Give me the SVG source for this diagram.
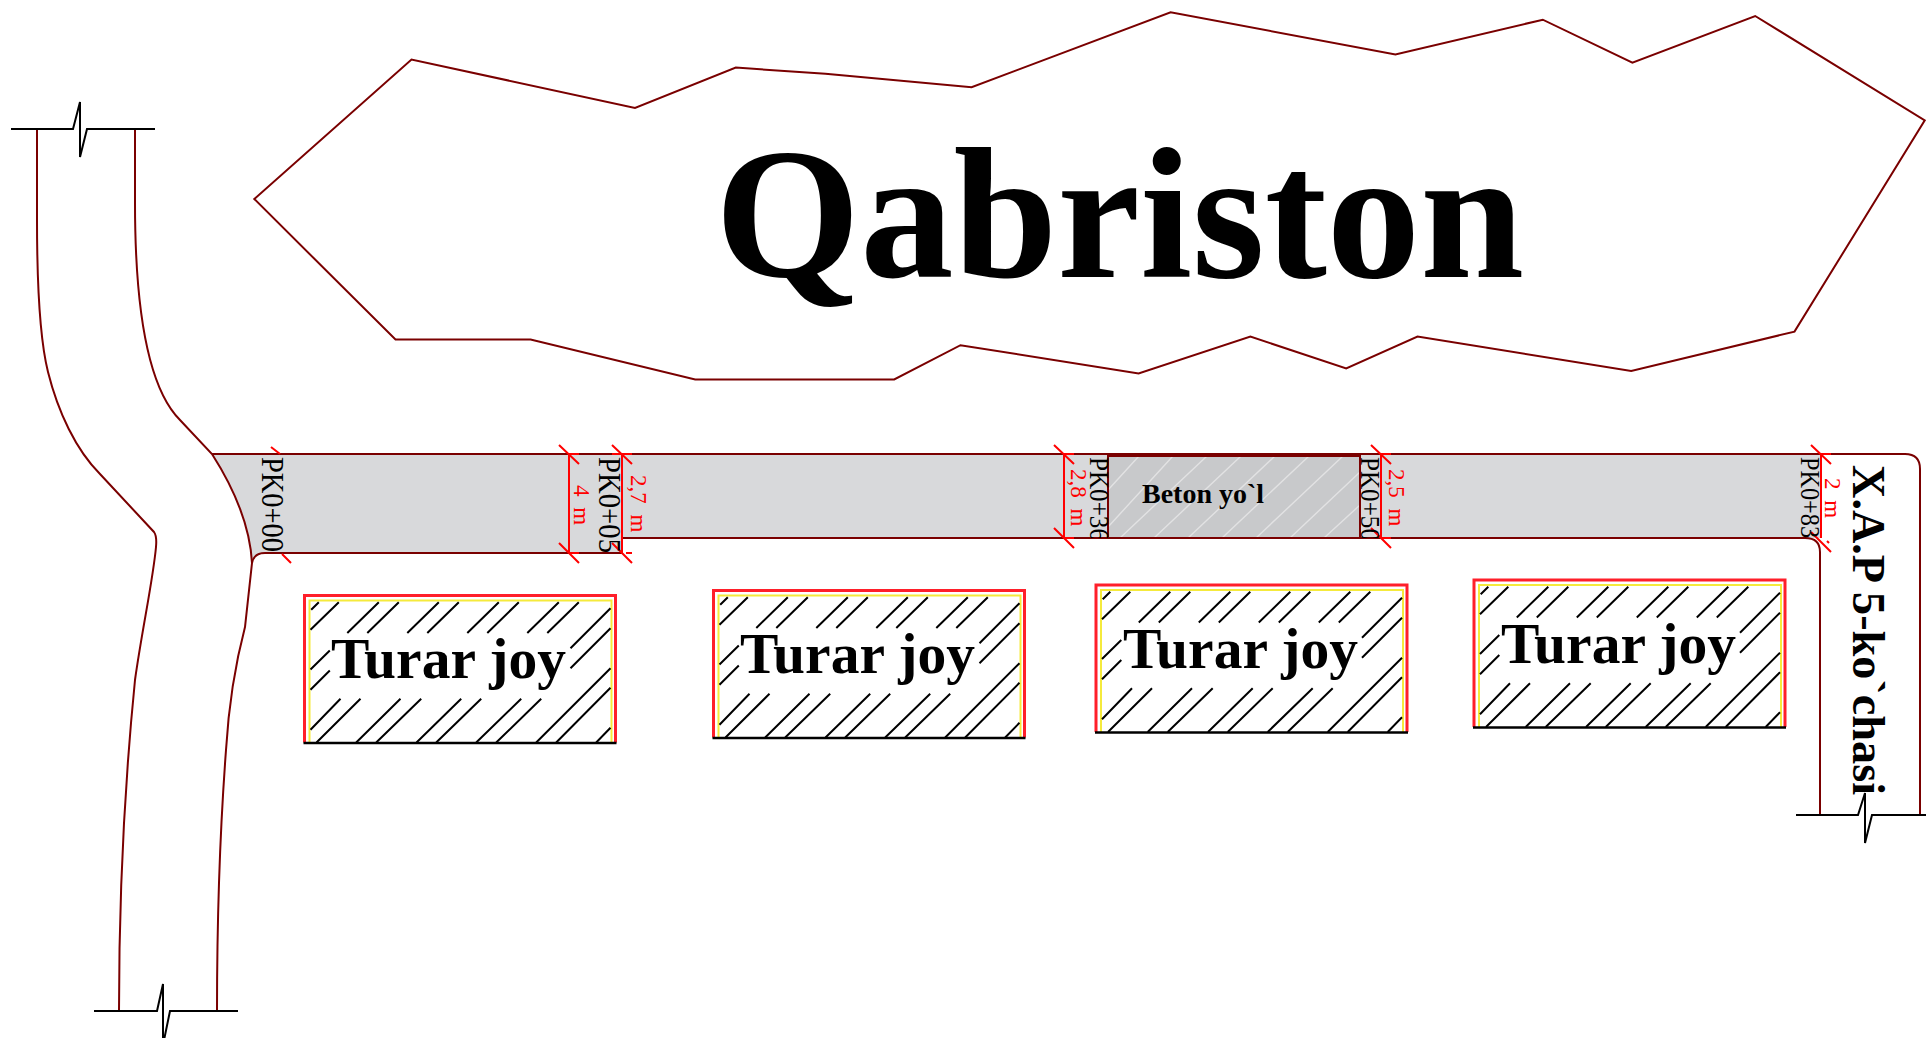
<svg xmlns="http://www.w3.org/2000/svg" width="1926" height="1038" viewBox="0 0 1926 1038">
<style>
text{font-family:"Liberation Serif","Times New Roman",serif}
.b{font-weight:bold;fill:#000}
.rd{fill:none;stroke:#7a0000;stroke-width:2}
.brk{fill:none;stroke:#000;stroke-width:2}
.dim{fill:none;stroke:#ff0000;stroke-width:2}
.dt{fill:#ff0000;font-size:23px;word-spacing:5px}
.pk{fill:#000}
.tj{font-size:56px}
</style>
<defs>
<clipPath id="roadClip"><path d="M1085,455H1400V538H1085Z"/></clipPath>
<g id="house">
<path d="M0,147V0H311V147" fill="#fff" stroke="#ff1f2a" stroke-width="3"/>
<path d="M5,147V5H307V147" fill="none" stroke="#f5ea3c" stroke-width="2"/>
<path fill="none" stroke="#000" stroke-width="2" d="M14.3,6.7L6.7,14.3M34.3,6.7L6,34.3M74.3,6.7L42.8,37.5M94.3,6.7L62.8,37.5M134.3,6.7L102.8,37.5M154.3,6.7L122.8,37.5M194.3,6.7L162.8,37.5M214.3,6.7L182.8,37.5M254.3,6.7L222.8,37.5M274.3,6.7L242.8,37.5M306,12.7L266,52.7M306,32.7L266,72.7M25.3,55L6,74M25.3,75L6,94.3M36,103.3L6,134.3M56,103.3L12,147M96,103.3L51.7,147M116.7,103.3L71.7,147M156.7,103.3L112,147M176.7,103.3L131.7,147M216.7,103.3L171.7,147M236.7,103.3L191.7,147M306,72.7L231.7,147M306,92.3L251.7,147M306,132.3L291.7,147"/>
<path d="M-1,147.5H312" stroke="#000" stroke-width="2.4"/>
</g>
</defs>

<g id="cemetery">
<path class="rd" d="M254.3,199L411.5,59.5L635,108L735.8,67.6L825.4,73.7L971.6,87.2L1170.6,12.3L1395.4,54.5L1542.8,19.7L1632.4,62.6L1755.2,16L1924.8,120.4L1794.5,331.6L1631.2,371L1417.5,336.6L1346.2,368.5L1250.4,336.6L1138.6,373.4L960.5,345.2L894.2,379.5L695.2,379.5L530.6,339.5L395.5,339.5Z"/>
<text class="b" x="715" y="277" font-size="186" textLength="809" lengthAdjust="spacingAndGlyphs">Qabriston</text>
</g>

<g id="road-surface">
<path fill="#d8d9db" d="M212,454H1820V538H622V553H265Q256,553 252,560C250,525 235,490 212,454Z"/>
</g>

<g id="concrete">
<rect x="1108" y="456" width="252" height="82" fill="#c8c9cb"/>
<path stroke="#e2e2e3" stroke-width="1.4" fill="none" d="M1108,490L1139,456M1108,527L1173,456M1120,538L1207,456M1154,538L1241,456M1188,538L1275,456M1222,538L1309,456M1256,538L1343,456M1290,538L1360,472M1324,538L1360,505"/>
<rect x="1108" y="456" width="252" height="82" fill="none" stroke="#7a0000" stroke-width="2"/>
<text class="b" x="1142" y="503" font-size="28" textLength="122" lengthAdjust="spacingAndGlyphs">Beton yo`l</text>
</g>

<g id="connectors">
<path class="rd" d="M37,129V220C37,290 40,340 48,372C58,412 76,450 100,474L154,532Q157,536 156,547C153,580 142,630 135,680C127,760 119,880 119,1011"/>
<path class="rd" d="M135,129V203C135,300 145,385 180,420L212,454C235,490 250,525 252,563L245,627C235,665 229,700 226,750C220,830 217,920 217,1011"/>
<path class="rd" d="M212,454H1905Q1920,454 1920,469V815"/>
<path class="rd" d="M252,563Q254,553 265,553H622V538H1805Q1820,538 1820,552V815"/>
<path class="brk" d="M11,129H73L80,102V157L87,129H155"/>
<path class="brk" d="M94,1011H157L163,984V1045L170,1011H238"/>
<path class="brk" d="M1796,815H1858L1865,793V843L1872,815H1926"/>
</g>

<g id="dimensions">
<path class="dim" d="M271,447L280,454M282,554L291,563"/>
<path class="dim" d="M559,445L579,464M569,454V553M569,454H579M559,543L579,563M569,553H579"/>
<path class="dim" d="M612,445L632,464M622,454V553M612,454H632M612,543L632,563M626,553H632"/>
<path class="dim" d="M1054,445L1074,464M1064,454V538M1064,454H1074M1054,528L1074,548M1064,538H1074"/>
<path class="dim" d="M1371,445L1391,464M1381,454V538M1381,454H1391M1371,528L1391,548M1381,538H1391"/>
<path class="dim" d="M1811,445L1831,464M1821,454V538M1821,454H1831M1811,532L1831,552M1827,541L1829,543"/>
<text class="dt" transform="translate(574,485) rotate(90)">4 m</text>
<text class="dt" transform="translate(631,475) rotate(90)">2,7 m</text>
<text class="dt" transform="translate(1071,469) rotate(90)">2,8 m</text>
<text class="dt" transform="translate(1389,469) rotate(90)">2,5 m</text>
<text class="dt" transform="translate(1825,478) rotate(90)">2 m</text>
</g>

<g id="stations">
<text class="pk" font-size="32" textLength="95" lengthAdjust="spacingAndGlyphs" transform="translate(262,457) rotate(90)">PK0+00</text>
<text class="pk" font-size="32" textLength="96" lengthAdjust="spacingAndGlyphs" transform="translate(599,457) rotate(90)">PK0+05</text>
<g clip-path="url(#roadClip)">
<text class="pk" font-size="27" textLength="84" lengthAdjust="spacingAndGlyphs" transform="translate(1090,457) rotate(90)">PK0+36</text>
<text class="pk" font-size="27" textLength="84" lengthAdjust="spacingAndGlyphs" transform="translate(1361,457) rotate(90)">PK0+50</text>
</g>
<text class="pk" font-size="27" textLength="81" lengthAdjust="spacingAndGlyphs" transform="translate(1801,457) rotate(90)">PK0+83</text>
</g>

<g id="street-label">
<text class="b" font-size="46" textLength="330" lengthAdjust="spacingAndGlyphs" transform="translate(1853,465) rotate(90)">X.A.P 5-ko`chasi</text>
</g>

<g id="house-1"><use href="#house" x="304.5" y="595.5"/><text class="b tj" x="331" y="678" textLength="235" lengthAdjust="spacingAndGlyphs">Turar joy</text></g>
<g id="house-2"><use href="#house" x="713.5" y="590.5"/><text class="b tj" x="740" y="673" textLength="235" lengthAdjust="spacingAndGlyphs">Turar joy</text></g>
<g id="house-3"><use href="#house" x="1096" y="585"/><text class="b tj" x="1123" y="668" textLength="235" lengthAdjust="spacingAndGlyphs">Turar joy</text></g>
<g id="house-4"><use href="#house" x="1474" y="580"/><text class="b tj" x="1501" y="663" textLength="235" lengthAdjust="spacingAndGlyphs">Turar joy</text></g>
</svg>
